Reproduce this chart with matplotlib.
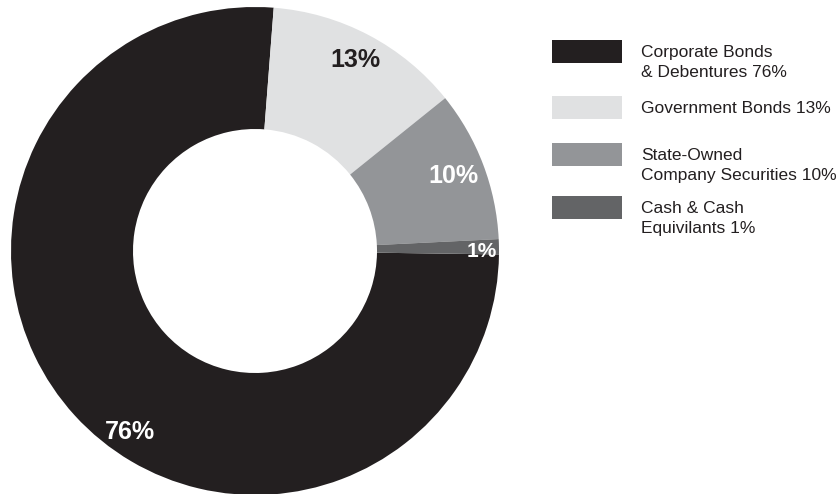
import numpy as np
import matplotlib
matplotlib.use("Agg")
import matplotlib.pyplot as plt
from matplotlib.patches import Rectangle

plt.rcParams['font.family'] = ['Liberation Sans', 'DejaVu Sans']

# data
categories = ["Corporate Bonds\n& Debentures 76%", "Government Bonds 13%",
              "State-Owned\nCompany Securities 10%", "Cash & Cash\nEquivilants 1%"]
values = [76, 13, 10, 1]
pct_labels = ["76%", "13%", "10%", "1%"]
colors = ["#231f20", "#e0e1e2", "#939598", "#636466"]
label_colors = ["white", "#231f20", "white", "white"]
label_sizes = [18, 18, 18, 15]
label_radius = [0.90, 0.885, 0.87, 0.93]
label_shift = [13.0, 0.0, 0.0, -1.0]  # degrees away from wedge middle

W, H = 840, 494
fig = plt.figure(figsize=(W / 100, H / 100), dpi=100)

# donut
cx, cy, R = 255, 251, 244
ax = fig.add_axes([(cx - R) / W, (H - cy - R) / H, 2 * R / W, 2 * R / H])
wedges, _ = ax.pie(values, colors=colors, startangle=-0.8, counterclock=False,
                   radius=1, wedgeprops=dict(width=0.5, linewidth=0))
for i, w in enumerate(wedges):
    ang = np.deg2rad((w.theta1 + w.theta2) / 2 + label_shift[i])
    r = label_radius[i]
    ax.text(r * np.cos(ang), r * np.sin(ang), pct_labels[i], ha="center", va="center",
            fontsize=label_sizes[i], fontweight="bold", color=label_colors[i])
ax.set_xlim(-1, 1)
ax.set_ylim(-1, 1)
ax.set_aspect("equal")
ax.axis("off")

# legend, drawn in pixel coordinates
lax = fig.add_axes([0, 0, 1, 1])
lax.set_xlim(0, W)
lax.set_ylim(H, 0)
lax.axis("off")
box_tops = [40, 96, 143, 196]
for i, lab in enumerate(categories):
    lax.add_patch(Rectangle((552, box_tops[i]), 70, 23, facecolor=colors[i], edgecolor="none"))
    lax.text(641, box_tops[i] + 4.5, lab, ha="left", va="top", fontsize=12.5,
             color="#231f20", linespacing=1.42)

fig.savefig("out.png", dpi=100, facecolor="white")
